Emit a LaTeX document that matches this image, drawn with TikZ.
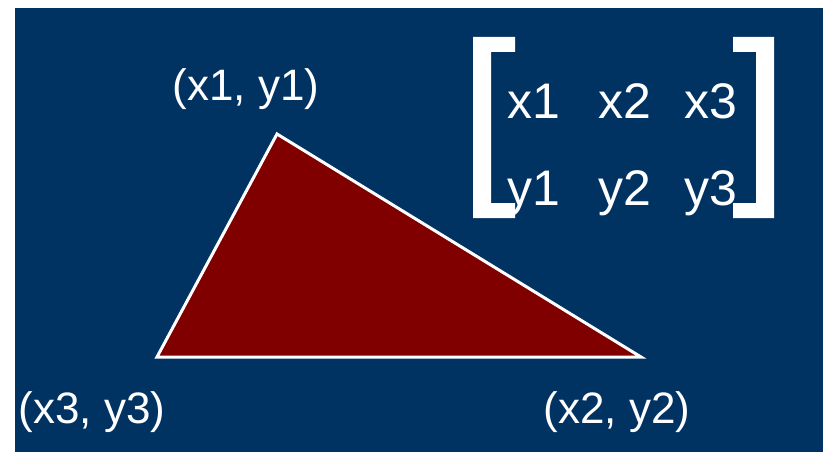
\documentclass[tikz,border=0pt]{standalone}
\usepackage{fontspec}
\setmainfont{Liberation Sans}
\definecolor{bgblue}{RGB}{0,50,98}
\definecolor{trired}{RGB}{128,0,0}
\begin{document}
\begin{tikzpicture}[x=1pt,y=-1pt,
  lbl/.style={text=white,inner sep=0pt,font=\fontsize{44}{50}\selectfont},
  cell/.style={text=white,inner sep=0pt,anchor=base,font=\fontsize{50}{56}\selectfont},
  brk/.style={fill=white,draw=none}]
\useasboundingbox (0,0) rectangle (823,452);
\fill[white] (0,0) rectangle (823,452);
\fill[bgblue] (15,8) rectangle (823,452);
% triangle
\coordinate (p1) at (277,134);
\coordinate (p2) at (641,357);
\coordinate (p3) at (157,357);
\filldraw[fill=trired,draw=white,line width=3pt,line join=miter] (p1) -- (p2) -- (p3) -- cycle;
% vertex labels
\node[lbl] (l1) at (246,89) {(x1, y1)};
\node[lbl] (l2) at (617,412) {(x2, y2)};
\node[lbl] (l3) at (92,412) {(x3, y3)};
% brackets
\fill[brk] (515,37) -- (473,37) -- (473,218) -- (515,218) -- (515,203) -- (491,203) -- (491,52) -- (515,52) -- cycle;
\fill[brk] (733,37) -- (774,37) -- (774,218) -- (733,218) -- (733,203) -- (756,203) -- (756,52) -- (733,52) -- cycle;
% matrix entries
\node[cell] (a11) at (534,118) {x1};
\node[cell] (a12) at (625,118) {x2};
\node[cell] (a13) at (711,118) {x3};
\node[cell] (a21) at (534,205) {y1};
\node[cell] (a22) at (625,205) {y2};
\node[cell] (a23) at (711,205) {y3};
\end{tikzpicture}
\end{document}
